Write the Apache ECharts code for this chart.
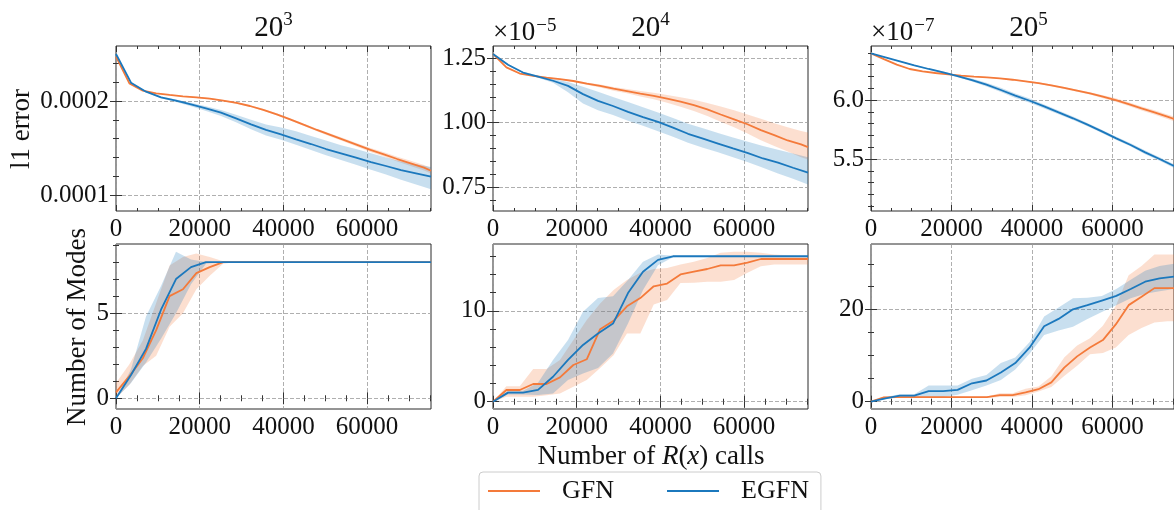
<!DOCTYPE html>
<html>
<head>
<meta charset="utf-8">
<script src="https://cdn.jsdelivr.net/npm/echarts@6/dist/echarts.min.js"></script>
<style>
  html, body { margin: 0; padding: 0; background: #ffffff; }
  #chart { width: 1174px; height: 510px; }
</style>
</head>
<body>
<div id="chart"></div>
<script>
// Number of R(x) calls at each logged step
const gfnX  = [0, 3200, 6400, 9600, 12800, 16000, 19200, 22400, 25600, 28800, 32000, 35200, 38400,
               41600, 44800, 48000, 51200, 54400, 57600, 60800, 64000, 67200, 70400, 73600, 75264];
const egfnX = [0, 3584, 7168, 10752, 14336, 17920, 21504, 25088, 28672, 32256, 35840, 39424, 43008,
               46592, 50176, 53760, 57344, 60928, 64512, 68096, 71680, 75264];

// l1 error, grid 20^3
const gfnErr3   = [0.0002470, 0.0002187, 0.0002110, 0.0002081, 0.0002064, 0.0002049, 0.0002039, 0.0002025, 0.0002004, 0.0001979, 0.0001947, 0.0001905, 0.0001859, 0.0001806, 0.0001749, 0.0001693, 0.0001640, 0.0001587, 0.0001534, 0.0001481, 0.0001435, 0.0001385, 0.0001339, 0.0001293, 0.0001261];
const gfnErr3Hi = [0.0002472, 0.0002189, 0.0002113, 0.0002085, 0.0002069, 0.0002054, 0.0002045, 0.0002031, 0.0002011, 0.0001987, 0.0001955, 0.0001914, 0.0001869, 0.0001817, 0.0001761, 0.0001706, 0.0001655, 0.0001604, 0.0001553, 0.0001502, 0.0001458, 0.0001410, 0.0001366, 0.0001322, 0.0001291];
const gfnErr3Lo = [0.0002468, 0.0002185, 0.0002107, 0.0002077, 0.0002059, 0.0002044, 0.0002033, 0.0002019, 0.0001997, 0.0001971, 0.0001939, 0.0001896, 0.0001849, 0.0001795, 0.0001737, 0.0001680, 0.0001625, 0.0001570, 0.0001515, 0.0001460, 0.0001412, 0.0001360, 0.0001312, 0.0001264, 0.0001231];
const egfnErr3   = [0.0002498, 0.0002194, 0.0002099, 0.0002039, 0.0002004, 0.0001965, 0.0001922, 0.0001876, 0.0001816, 0.0001753, 0.0001693, 0.0001647, 0.0001594, 0.0001544, 0.0001491, 0.0001445, 0.0001399, 0.0001353, 0.0001311, 0.0001268, 0.0001233, 0.0001198];
const egfnErr3Hi = [0.0002500, 0.0002200, 0.0002105, 0.0002048, 0.0002015, 0.0001982, 0.0001945, 0.0001905, 0.0001855, 0.0001800, 0.0001750, 0.0001720, 0.0001680, 0.0001630, 0.0001580, 0.0001530, 0.0001490, 0.0001445, 0.0001400, 0.0001360, 0.0001330, 0.0001300];
const egfnErr3Lo = [0.0002495, 0.0002190, 0.0002092, 0.0002028, 0.0001990, 0.0001945, 0.0001895, 0.0001840, 0.0001775, 0.0001700, 0.0001635, 0.0001590, 0.0001535, 0.0001480, 0.0001425, 0.0001375, 0.0001325, 0.0001270, 0.0001220, 0.0001165, 0.0001115, 0.0001065];

// l1 error, grid 20^4 (in units of 1e-5)
const gfnErr4   = [1.267, 1.215, 1.191, 1.182, 1.175, 1.169, 1.162, 1.152, 1.143, 1.132, 1.123, 1.113, 1.104, 1.094, 1.082, 1.068, 1.052, 1.032, 1.013, 0.994, 0.971, 0.952, 0.931, 0.916, 0.905];
const gfnErr4Hi = [1.268, 1.217, 1.193, 1.184, 1.177, 1.171, 1.165, 1.156, 1.148, 1.139, 1.131, 1.123, 1.116, 1.108, 1.099, 1.089, 1.077, 1.063, 1.048, 1.032, 1.015, 0.998, 0.982, 0.968, 0.962];
const gfnErr4Lo = [1.266, 1.213, 1.189, 1.180, 1.173, 1.166, 1.158, 1.147, 1.137, 1.124, 1.114, 1.102, 1.091, 1.078, 1.062, 1.045, 1.026, 1.004, 0.982, 0.958, 0.932, 0.910, 0.888, 0.866, 0.857];
const egfnErr4   = [1.267, 1.225, 1.195, 1.179, 1.163, 1.143, 1.111, 1.085, 1.065, 1.042, 1.022, 1.003, 0.981, 0.957, 0.938, 0.919, 0.900, 0.882, 0.861, 0.845, 0.825, 0.806];
const egfnErr4Hi = [1.270, 1.228, 1.198, 1.183, 1.170, 1.158, 1.140, 1.120, 1.100, 1.080, 1.060, 1.040, 1.018, 0.996, 0.978, 0.960, 0.943, 0.926, 0.910, 0.895, 0.880, 0.866];
const egfnErr4Lo = [1.264, 1.222, 1.192, 1.175, 1.155, 1.118, 1.075, 1.048, 1.030, 1.008, 0.988, 0.967, 0.945, 0.922, 0.903, 0.885, 0.866, 0.846, 0.825, 0.803, 0.782, 0.760];

// l1 error, grid 20^5 (in units of 1e-7)
const gfnErr5   = [6.395, 6.347, 6.300, 6.263, 6.243, 6.229, 6.218, 6.206, 6.198, 6.192, 6.184, 6.172, 6.158, 6.144, 6.124, 6.102, 6.079, 6.056, 6.028, 6.000, 5.966, 5.929, 5.895, 5.859, 5.840];
const gfnErr5Hi = [6.396, 6.349, 6.302, 6.265, 6.245, 6.231, 6.220, 6.208, 6.200, 6.195, 6.187, 6.176, 6.163, 6.150, 6.131, 6.110, 6.088, 6.066, 6.040, 6.014, 5.982, 5.946, 5.913, 5.878, 5.860];
const gfnErr5Lo = [6.394, 6.345, 6.298, 6.261, 6.241, 6.227, 6.216, 6.204, 6.196, 6.189, 6.181, 6.168, 6.153, 6.138, 6.117, 6.094, 6.070, 6.046, 6.016, 5.986, 5.950, 5.912, 5.877, 5.840, 5.820];
const egfnErr5   = [6.395, 6.362, 6.328, 6.294, 6.263, 6.234, 6.203, 6.169, 6.130, 6.085, 6.037, 5.994, 5.946, 5.895, 5.845, 5.791, 5.734, 5.675, 5.619, 5.556, 5.500, 5.440];
const egfnErr5Hi = [6.397, 6.365, 6.332, 6.299, 6.269, 6.241, 6.212, 6.182, 6.146, 6.103, 6.056, 6.012, 5.963, 5.911, 5.860, 5.805, 5.748, 5.689, 5.633, 5.571, 5.515, 5.456];
const egfnErr5Lo = [6.393, 6.359, 6.324, 6.289, 6.257, 6.227, 6.194, 6.156, 6.114, 6.067, 6.018, 5.976, 5.929, 5.879, 5.830, 5.777, 5.720, 5.661, 5.605, 5.541, 5.485, 5.424];

// Number of modes found, grid 20^3
const gfnModes3   = [0.35, 1.3, 2.35, 4.0, 6.0, 6.4, 7.35, 7.7, 8, 8, 8, 8, 8, 8, 8, 8, 8, 8, 8, 8, 8, 8, 8, 8, 8];
const gfnModes3Hi = [0.9, 2.0, 3.4, 5.6, 7.8, 8.3, 8.5, 8.3, 8.05, 8, 8, 8, 8, 8, 8, 8, 8, 8, 8, 8, 8, 8, 8, 8, 8];
const gfnModes3Lo = [0, 0.8, 1.9, 2.5, 4.2, 5.0, 6.4, 7.2, 7.9, 8, 8, 8, 8, 8, 8, 8, 8, 8, 8, 8, 8, 8, 8, 8, 8];
const egfnModes3   = [0, 1.37, 2.9, 5.2, 7.0, 7.7, 8, 8, 8, 8, 8, 8, 8, 8, 8, 8, 8, 8, 8, 8, 8, 8];
const egfnModes3Hi = [0, 1.7, 4.8, 6.6, 8.6, 8.15, 8, 8, 8, 8, 8, 8, 8, 8, 8, 8, 8, 8, 8, 8, 8, 8];
const egfnModes3Lo = [0, 0.9, 2.1, 3.5, 5.0, 6.7, 7.9, 8, 8, 8, 8, 8, 8, 8, 8, 8, 8, 8, 8, 8, 8, 8];

// Number of modes found, grid 20^4
const gfnModes4   = [0, 1.29, 1.29, 1.95, 1.95, 2.68, 4.04, 4.67, 7.98, 8.9, 10.5, 11.4, 12.7, 13.0, 14.0, 14.3, 14.6, 15.0, 15.0, 15.3, 15.7, 15.7, 15.7, 15.7, 15.7];
const gfnModes4Hi = [0, 1.7, 1.7, 3.6, 3.6, 4.6, 6.8, 9.0, 10.8, 12.3, 13.4, 14.2, 14.6, 14.7, 15.1, 15.4, 15.8, 16.4, 16.5, 16.5, 16.4, 16.2, 16.1, 16.0, 16.0];
const gfnModes4Lo = [0, 0.55, 0.55, 0.55, 0.7, 0.9, 1.65, 2.4, 3.7, 5.1, 7.5, 7.5, 10.7, 11.2, 13.05, 13.1, 13.2, 13.2, 13.4, 14.2, 14.9, 15.1, 15.1, 15.1, 15.1];
const egfnModes4   = [0, 1.0, 1.0, 1.3, 2.75, 4.6, 6.25, 7.5, 8.6, 11.95, 14.3, 15.6, 16, 16, 16, 16, 16, 16, 16, 16, 16, 16];
const egfnModes4Hi = [0, 1.2, 1.2, 2.1, 4.6, 6.8, 9.9, 11.4, 11.6, 13.4, 15.4, 16.2, 16.05, 16, 16, 16, 16, 16, 16, 16, 16, 16];
const egfnModes4Lo = [0, 0.8, 0.8, 0.75, 0.9, 2.4, 3.1, 3.7, 5.3, 8.6, 12.3, 15.0, 15.9, 16, 16, 16, 16, 16, 16, 16, 16, 16];

// Number of modes found, grid 20^5
const gfnModes5   = [0, 0.95, 1.0, 1.0, 1.0, 1.0, 1.0, 1.0, 1.0, 1.0, 1.4, 1.4, 2.0, 2.7, 4.2, 7.4, 9.85, 11.8, 13.4, 16.8, 21.0, 22.8, 24.7, 24.7, 24.7];
const gfnModes5Hi = [0, 1.1, 1.1, 1.1, 1.1, 1.1, 1.1, 1.1, 1.1, 1.1, 1.8, 1.8, 2.8, 3.3, 5.5, 9.6, 12.2, 13.8, 16.5, 20.8, 27.5, 29.5, 32.0, 32.0, 32.0];
const gfnModes5Lo = [0, 0.8, 0.8, 0.8, 0.8, 0.8, 0.8, 0.8, 0.8, 0.8, 1.0, 1.0, 1.4, 2.2, 3.2, 5.6, 7.8, 10.3, 10.6, 11.8, 14.5, 16.0, 17.2, 17.5, 17.5];
const egfnModes5   = [0, 0.7, 1.3, 1.3, 2.3, 2.3, 2.55, 4.0, 4.6, 6.35, 8.4, 11.8, 16.4, 18.0, 20.1, 21.0, 22.0, 23.0, 24.5, 26.1, 26.8, 27.2];
const egfnModes5Hi = [0, 1.0, 1.6, 1.6, 3.5, 3.5, 3.5, 5.0, 5.8, 8.4, 9.6, 13.0, 18.5, 20.5, 22.5, 22.6, 23.0, 24.5, 26.5, 28.5, 29.5, 30.0];
const egfnModes5Lo = [0, 0.5, 1.0, 1.0, 1.0, 1.0, 1.5, 2.5, 3.5, 4.7, 7.0, 10.5, 14.5, 15.5, 16.3, 18.0, 19.5, 21.0, 22.5, 23.5, 24.0, 24.5];

// Tick labels
const xTicks = [0, 20000, 40000, 60000];
const yTicksErr3 = [0.0001, 0.0002];
const yTicksErr4 = [0.75, 1.00, 1.25];
const yTicksErr5 = [5.5, 6.0];
const yTicksModes3 = [0, 5];
const yTicksModes4 = [0, 10];
const yTicksModes5 = [0, 20];
const seriesNames = ['GFN', 'EGFN'];
const gridSizes = ['3', '4', '5'];

// ---- styling & layout ----
const FONT = '"Liberation Serif", "Times New Roman", serif';
const INK = '#111111';
const ORANGE = '#f47a3a';
const BLUE = '#1b78bd';
const ORANGE_BAND = 'rgba(244,122,58,0.24)';
const BLUE_BAND = 'rgba(27,120,189,0.24)';
const X_MAX = 75264;
const PW = 315, PH = 165;
const cols = [116, 493, 871];
const rows = [46, 244];

const panels = [
  { min: 0.0000834, max: 0.0002583, major: yTicksErr3, step: 0.00002, fmt: v => v.toFixed(4),
    gfn: [gfnErr3, gfnErr3Lo, gfnErr3Hi], egfn: [egfnErr3, egfnErr3Lo, egfnErr3Hi] },
  { min: 0.657, max: 1.298, major: yTicksErr4, step: 0.05, fmt: v => v.toFixed(2),
    gfn: [gfnErr4, gfnErr4Lo, gfnErr4Hi], egfn: [egfnErr4, egfnErr4Lo, egfnErr4Hi] },
  { min: 5.059, max: 6.458, major: yTicksErr5, step: 0.1, fmt: v => v.toFixed(1),
    gfn: [gfnErr5, gfnErr5Lo, gfnErr5Hi], egfn: [egfnErr5, egfnErr5Lo, egfnErr5Hi] },
  { min: -0.63, max: 9.06, major: yTicksModes3, step: 1, fmt: v => String(v),
    gfn: [gfnModes3, gfnModes3Lo, gfnModes3Hi], egfn: [egfnModes3, egfnModes3Lo, egfnModes3Hi] },
  { min: -0.8, max: 17.35, major: yTicksModes4, step: 2, fmt: v => String(v),
    gfn: [gfnModes4, gfnModes4Lo, gfnModes4Hi], egfn: [egfnModes4, egfnModes4Lo, egfnModes4Hi] },
  { min: -1.6, max: 34.3, major: yTicksModes5, step: 5, fmt: v => String(v),
    gfn: [gfnModes5, gfnModes5Lo, gfnModes5Hi], egfn: [egfnModes5, egfnModes5Lo, egfnModes5Hi] }
];

// minor tick positions between the labelled ones
function minorTicks(min, max, step, majors) {
  const out = [];
  for (let k = Math.ceil(min / step - 1e-9); k * step <= max + step * 1e-9; k++) {
    const v = +(k * step).toPrecision(12);
    if (!majors.some(m => Math.abs(m - v) < step * 1e-6)) out.push(v);
  }
  return out;
}

function tick(values, len) {
  return { show: true, inside: true, length: len, customValues: values,
           lineStyle: { color: '#333333', width: 1 } };
}

// four axes per dimension: labelled side, mirrored side, and minor ticks on both
function axesFor(dim, k, min, max, majors, minors, fmt) {
  const side = dim === 'x' ? ['bottom', 'top'] : ['left', 'right'];
  const base = { gridIndex: k, type: 'value', min, max, scale: true,
                 axisLine: { show: false }, splitLine: { show: false }, axisLabel: { show: false } };
  return [
    Object.assign({}, base, {
      position: side[0], axisTick: tick(majors, 6),
      axisLabel: { show: true, customValues: majors, formatter: fmt, margin: dim === 'x' ? 6 : 7,
                   color: INK, fontFamily: FONT, fontSize: 25 },
      splitLine: { show: true, lineStyle: { color: '#9a9a9a', width: 0.8, type: [4, 2] } }
    }),
    Object.assign({}, base, { position: side[1], axisTick: tick(majors, 6) }),
    Object.assign({}, base, { position: side[0], axisTick: tick(minors, 3) }),
    Object.assign({}, base, { position: side[1], axisTick: tick(minors, 3) })
  ];
}

function band(name, xs, lo, hi, fill, axisIndex) {
  return {
    type: 'custom', name, xAxisIndex: axisIndex, yAxisIndex: axisIndex, z: 1, silent: true, clip: true,
    encode: { x: 0, y: [1, 2] },
    data: xs.map((x, i) => [x, lo[i], hi[i]]),
    renderItem(params, api) {
      if (params.dataIndex !== 0) return null;
      const pts = [];
      for (let i = 0; i < xs.length; i++) pts.push(api.coord([xs[i], hi[i]]));
      for (let i = xs.length - 1; i >= 0; i--) pts.push(api.coord([xs[i], lo[i]]));
      return { type: 'polygon', shape: { points: pts }, style: { fill: fill, stroke: null } };
    }
  };
}

function line(name, xs, ys, color, axisIndex, z) {
  return {
    type: 'line', name, xAxisIndex: axisIndex, yAxisIndex: axisIndex, z, clip: true,
    symbol: 'none', showSymbol: false, silent: true,
    data: xs.map((x, i) => [x, ys[i]]),
    itemStyle: { color }, lineStyle: { color, width: 1.8 }
  };
}

const grid = [], xAxis = [], yAxis = [], series = [];
const xMinor = minorTicks(0, X_MAX, 5000, xTicks);
panels.forEach((p, k) => {
  grid.push({ left: cols[k % 3], top: rows[Math.floor(k / 3)], width: PW, height: PH,
              show: true, borderColor: '#2a2a2a', borderWidth: 1, backgroundColor: 'transparent' });
  xAxis.push(...axesFor('x', k, 0, X_MAX, xTicks, xMinor, v => String(v)));
  yAxis.push(...axesFor('y', k, p.min, p.max, p.major, minorTicks(p.min, p.max, p.step, p.major), p.fmt));
  const ai = 4 * k;
  series.push(band('GFN band', gfnX, p.gfn[1], p.gfn[2], ORANGE_BAND, ai));
  series.push(band('EGFN band', egfnX, p.egfn[1], p.egfn[2], BLUE_BAND, ai));
  series.push(line(seriesNames[0], gfnX, p.gfn[0], ORANGE, ai, 3));
  series.push(line(seriesNames[1], egfnX, p.egfn[0], BLUE, ai, 4));
});

function text(x, y, str, rich, align, extra) {
  const a = align || 'center';
  return Object.assign({
    type: 'text', x, y, silent: true,
    style: { text: str, rich, fill: INK, align: a, verticalAlign: 'middle',
             textAlign: a, textVerticalAlign: 'middle' }
  }, extra || {});
}

const titleRich = {
  b: { fontFamily: FONT, fontSize: 29, fill: INK },
  s: { fontFamily: FONT, fontSize: 19, fill: INK, padding: [0, 0, 16, 0] }
};
const expRich = {
  b: { fontFamily: FONT, fontSize: 27, fill: INK },
  s: { fontFamily: FONT, fontSize: 19, fill: INK, padding: [0, 0, 13, 1] }
};
const labelRich = {
  n: { fontFamily: FONT, fontSize: 27, fill: INK },
  i: { fontFamily: FONT, fontSize: 27, fill: INK, fontStyle: 'italic' }
};

const graphic = [];
gridSizes.forEach((g, c) => {
  graphic.push(text(cols[c] + PW / 2, 28, '{b|20}{s|' + g + '}', titleRich));
});
graphic.push(text(493, 33, '{b|×10}{s|−5}', expRich, 'left'));
graphic.push(text(871, 33, '{b|×10}{s|−7}', expRich, 'left'));
graphic.push(text(22, 129, '{n|l1 error}', labelRich, 'center', { rotation: Math.PI / 2 }));
graphic.push(text(78, 327, '{n|Number of Modes}', labelRich, 'center', { rotation: Math.PI / 2 }));
graphic.push(text(651, 457, '{n|Number of }{i|R}{n|(}{i|x}{n|) calls}', labelRich));

const chart = echarts.init(document.getElementById('chart'), null, { renderer: 'canvas' });
chart.setOption({
  animation: false,
  backgroundColor: '#ffffff',
  grid, xAxis, yAxis, series, graphic,
  legend: {
    data: seriesNames, left: 479, top: 472, orient: 'horizontal',
    icon: 'rect', itemWidth: 52, itemHeight: 2, itemGap: 53,
    padding: [6, 12, 30, 9],
    borderColor: '#cccccc', borderWidth: 1, borderRadius: 4, backgroundColor: '#ffffff',
    selectedMode: false,
    textStyle: { fontFamily: FONT, fontSize: 26, color: INK, lineHeight: 26, padding: [0, 0, 0, 17] }
  }
});
</script>
</body>
</html>
